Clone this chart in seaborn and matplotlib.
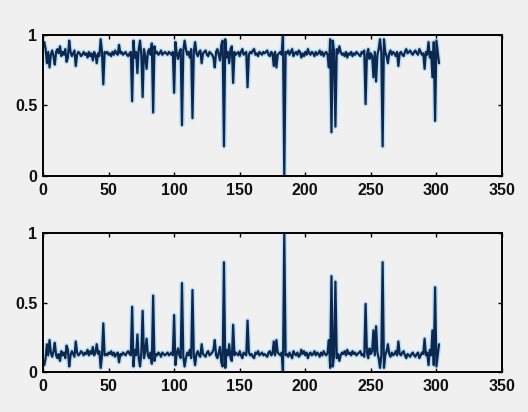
import numpy as np
import pandas as pd
import matplotlib
matplotlib.use("Agg")
import matplotlib.pyplot as plt
import seaborn as sns

# upper trace
top_vals = [
    0.95, 0.90, 0.80, 0.88, 0.77, 0.86, 0.89, 0.85, 0.79, 0.88, 0.90, 0.87, 0.92, 0.85, 0.88, 0.86, 0.90, 0.81, 0.84, 0.96,
    0.88, 0.85, 0.87, 0.89, 0.78, 0.86, 0.88, 0.87, 0.85, 0.86, 0.88, 0.86, 0.87, 0.84, 0.88, 0.85, 0.87, 0.82, 0.88, 0.86,
    0.80, 0.87, 0.85, 0.97, 0.88, 0.65, 0.88, 0.87, 0.88, 0.86, 0.87, 0.85, 0.88, 0.86, 0.89, 0.87, 0.86, 0.93, 0.87, 0.88,
    0.86, 0.87, 0.88, 0.86, 0.85, 0.87, 0.88, 0.53, 0.96, 0.84, 0.88, 0.73, 0.90, 0.96, 0.86, 0.56, 0.90, 0.85, 0.76, 0.88,
    0.90, 0.86, 0.94, 0.45, 0.92, 0.87, 0.88, 0.86, 0.87, 0.89, 0.86, 0.87, 0.88, 0.87, 0.86, 0.88, 0.87, 0.86, 0.88, 0.59,
    0.95, 0.87, 0.83, 0.88, 0.90, 0.36, 0.89, 0.96, 0.90, 0.86, 0.88, 0.84, 0.90, 0.41, 0.88, 0.95, 0.87, 0.85, 0.88, 0.89,
    0.80, 0.87, 0.88, 0.89, 0.86, 0.85, 0.88, 0.87, 0.86, 0.84, 0.77, 0.88, 0.90, 0.86, 0.82, 0.93, 0.96, 0.21, 0.97, 0.84,
    0.88, 0.80, 0.90, 0.92, 0.66, 0.88, 0.86, 0.87, 0.88, 0.85, 0.88, 0.90, 0.86, 0.87, 0.88, 0.63, 0.86, 0.88, 0.87, 0.89,
    0.90, 0.86, 0.87, 0.85, 0.88, 0.87, 0.86, 0.88, 0.87, 0.88, 0.89, 0.86, 0.85, 0.88, 0.87, 0.78, 0.88, 0.77, 0.86, 0.87,
    0.88, 0.86, 1.00, 0.00, 0.88, 0.87, 0.89, 0.86, 0.88, 0.90, 0.85, 0.87, 0.88, 0.86, 0.89, 0.88, 0.84, 0.87, 0.85, 0.88,
    0.86, 0.90, 0.87, 0.86, 0.88, 0.87, 0.85, 0.88, 0.86, 0.87, 0.89, 0.86, 0.88, 0.85, 0.87, 0.88, 0.86, 0.77, 0.97, 0.31,
    0.96, 0.88, 0.35, 0.90, 0.87, 0.92, 0.88, 0.86, 0.87, 0.85, 0.88, 0.84, 0.87, 0.86, 0.88, 0.85, 0.87, 0.86, 0.88, 0.87,
    0.86, 0.85, 0.88, 0.87, 0.89, 0.51, 0.86, 0.90, 0.83, 0.87, 0.85, 0.70, 0.88, 0.67, 0.86, 0.90, 0.97, 0.88, 0.21, 0.97,
    0.88, 0.85, 0.80, 0.87, 0.89, 0.86, 0.88, 0.87, 0.85, 0.88, 0.78, 0.87, 0.88, 0.86, 0.85, 0.88, 0.90, 0.87, 0.88, 0.89,
    0.87, 0.86, 0.88, 0.89, 0.87, 0.86, 0.90, 0.88, 0.86, 0.87, 0.76, 0.88, 0.86, 0.95, 0.84, 0.88, 0.70, 0.95, 0.39, 0.96,
    0.88, 0.80,
]

# lower trace
bottom_vals = [
    0.05, 0.10, 0.20, 0.12, 0.23, 0.14, 0.11, 0.15, 0.21, 0.12, 0.10, 0.13, 0.08, 0.15, 0.12, 0.14, 0.10, 0.19, 0.16, 0.04,
    0.12, 0.15, 0.13, 0.11, 0.22, 0.14, 0.12, 0.13, 0.15, 0.14, 0.12, 0.14, 0.13, 0.16, 0.12, 0.15, 0.13, 0.18, 0.12, 0.14,
    0.20, 0.13, 0.15, 0.03, 0.12, 0.35, 0.12, 0.13, 0.12, 0.14, 0.13, 0.15, 0.12, 0.14, 0.11, 0.13, 0.14, 0.07, 0.13, 0.12,
    0.14, 0.13, 0.12, 0.14, 0.15, 0.13, 0.12, 0.47, 0.04, 0.16, 0.12, 0.27, 0.10, 0.04, 0.14, 0.44, 0.10, 0.15, 0.24, 0.12,
    0.10, 0.14, 0.06, 0.55, 0.08, 0.13, 0.12, 0.14, 0.13, 0.11, 0.14, 0.13, 0.12, 0.13, 0.14, 0.12, 0.13, 0.14, 0.12, 0.41,
    0.05, 0.13, 0.17, 0.12, 0.10, 0.64, 0.11, 0.04, 0.10, 0.14, 0.12, 0.16, 0.10, 0.59, 0.12, 0.05, 0.13, 0.15, 0.12, 0.11,
    0.20, 0.13, 0.12, 0.11, 0.14, 0.15, 0.12, 0.13, 0.14, 0.16, 0.23, 0.12, 0.10, 0.14, 0.18, 0.07, 0.04, 0.79, 0.03, 0.16,
    0.12, 0.20, 0.10, 0.08, 0.34, 0.12, 0.14, 0.13, 0.12, 0.15, 0.12, 0.10, 0.14, 0.13, 0.12, 0.37, 0.14, 0.12, 0.13, 0.11,
    0.10, 0.14, 0.13, 0.15, 0.12, 0.13, 0.14, 0.12, 0.13, 0.12, 0.11, 0.14, 0.15, 0.12, 0.13, 0.22, 0.12, 0.23, 0.14, 0.13,
    0.12, 0.14, 0.00, 1.00, 0.12, 0.13, 0.11, 0.14, 0.12, 0.10, 0.15, 0.13, 0.12, 0.14, 0.11, 0.12, 0.16, 0.13, 0.15, 0.12,
    0.14, 0.10, 0.13, 0.14, 0.12, 0.13, 0.15, 0.12, 0.14, 0.13, 0.11, 0.14, 0.12, 0.15, 0.13, 0.12, 0.14, 0.23, 0.03, 0.69,
    0.04, 0.12, 0.65, 0.10, 0.13, 0.08, 0.12, 0.14, 0.13, 0.15, 0.12, 0.16, 0.13, 0.14, 0.12, 0.15, 0.13, 0.14, 0.12, 0.13,
    0.14, 0.15, 0.12, 0.13, 0.11, 0.49, 0.14, 0.10, 0.17, 0.13, 0.15, 0.30, 0.12, 0.33, 0.14, 0.10, 0.03, 0.12, 0.79, 0.03,
    0.12, 0.15, 0.20, 0.13, 0.11, 0.14, 0.12, 0.13, 0.15, 0.12, 0.22, 0.13, 0.12, 0.14, 0.15, 0.12, 0.10, 0.13, 0.12, 0.11,
    0.13, 0.14, 0.12, 0.11, 0.13, 0.14, 0.10, 0.12, 0.14, 0.13, 0.24, 0.12, 0.14, 0.05, 0.16, 0.12, 0.30, 0.05, 0.61, 0.04,
    0.12, 0.20,
]

x_ticks = [0, 50, 100, 150, 200, 250, 300, 350]
y_ticks = [0, 0.5, 1]
y_labels = ["0", "0.5", "1"]

sns.set_style("ticks")
plt.rcParams['font.family'] = ['Liberation Sans', 'DejaVu Sans']

bg = '#f0f0f0'
fig = plt.figure(figsize=(5.28, 4.12), dpi=100, facecolor=bg)
ax1 = fig.add_axes([0.0814, 0.573, 0.8693, 0.342])
ax2 = fig.add_axes([0.0814, 0.097, 0.8693, 0.3374])

for ax, vals in [(ax1, top_vals), (ax2, bottom_vals)]:
    df = pd.DataFrame({'idx': np.arange(1, len(vals) + 1), 'val': vals})
    # soft light-blue halo under the dark trace
    sns.lineplot(data=df, x='idx', y='val', ax=ax, color='#a8d8f2', linewidth=3.6, alpha=0.7)
    sns.lineplot(data=df, x='idx', y='val', ax=ax, color='#0c2850', linewidth=1.6)
    ax.set_facecolor(bg)
    ax.set_xlim(0, 350)
    ax.set_ylim(0, 1)
    ax.set_xticks(x_ticks)
    ax.set_xticklabels([str(t) for t in x_ticks], fontweight='bold', fontsize=11.5)
    ax.set_yticks(y_ticks)
    ax.set_yticklabels(y_labels, fontweight='bold', fontsize=11.5)
    ax.set_xlabel('')
    ax.set_ylabel('')
    ax.tick_params(direction='in', top=True, right=True, length=3, width=1,
                   colors='black', labelcolor='#111111')
    ax.tick_params(axis='x', pad=5)
    ax.tick_params(axis='y', pad=4)
    for sp in ax.spines.values():
        sp.set_visible(True)
        sp.set_linewidth(1.4)
        sp.set_color('black')

fig.savefig('out.png', dpi=100, facecolor=bg)
